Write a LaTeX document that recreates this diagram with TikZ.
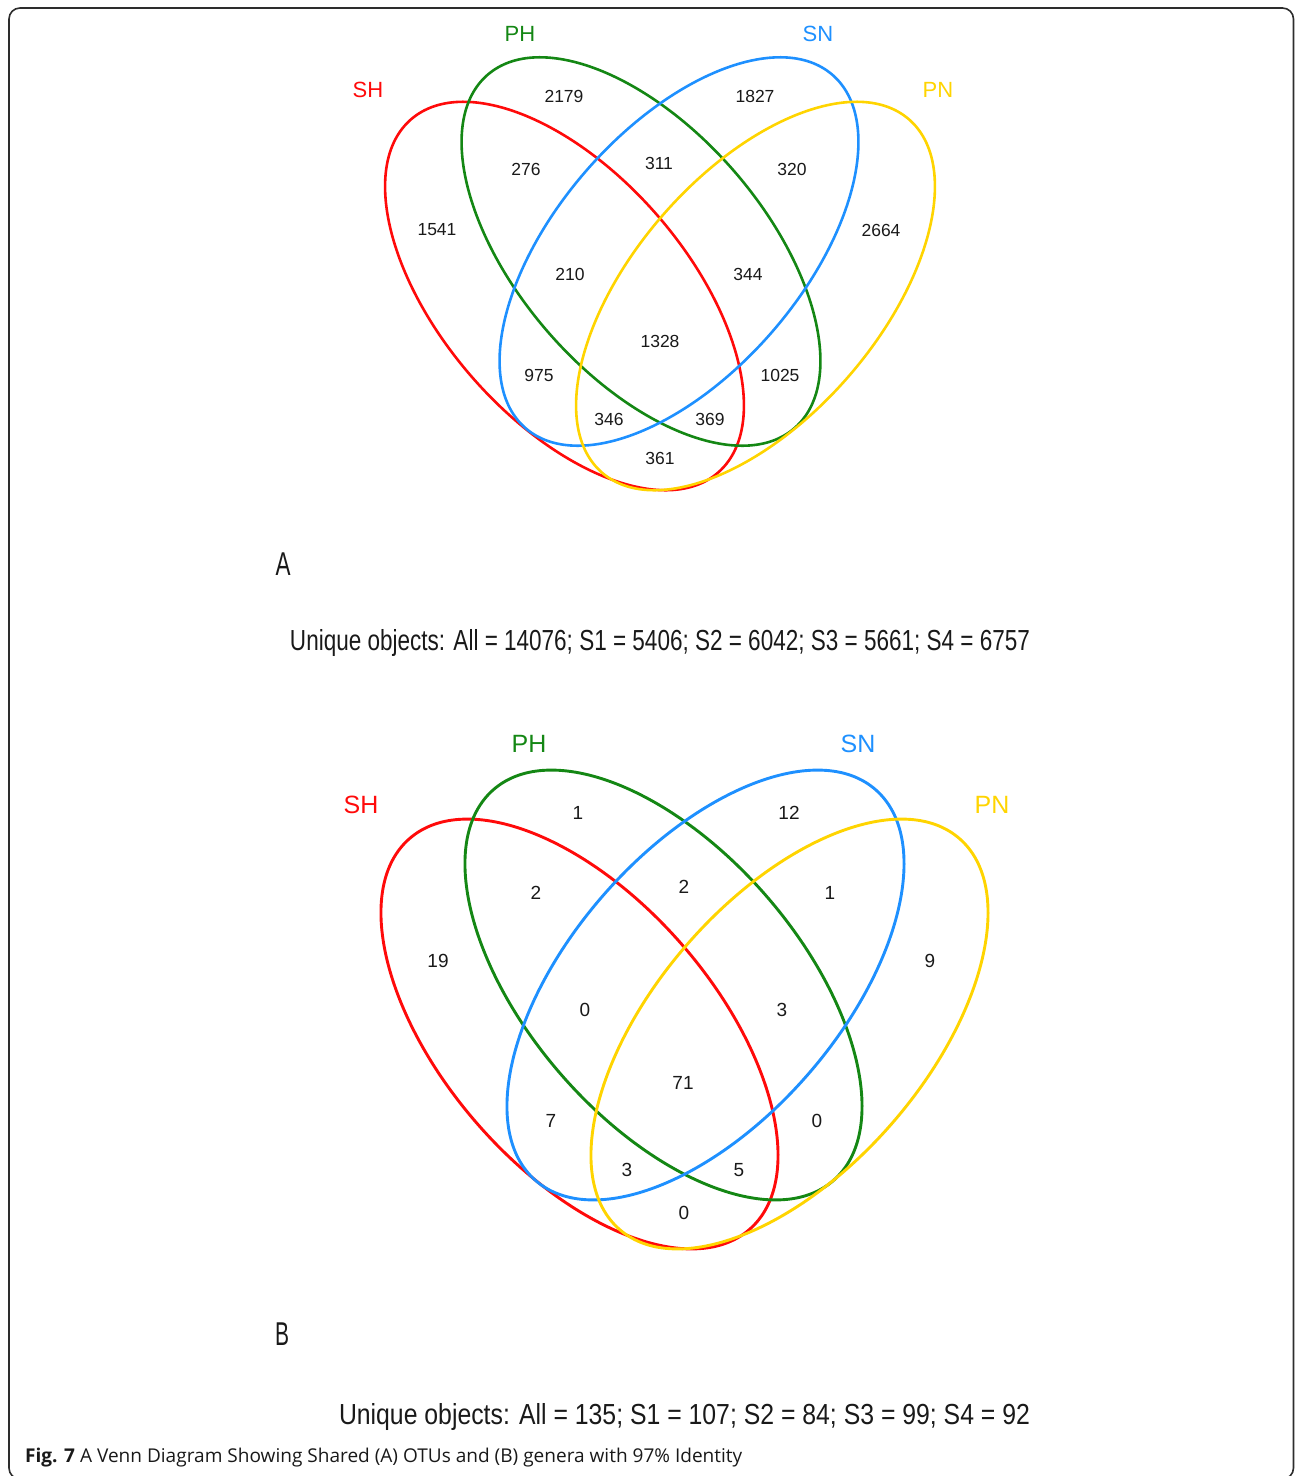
\documentclass[tikz,border=0pt]{standalone}
\usepackage{fontspec}
\usepackage{graphicx}
\setmainfont{Liberation Sans}
\newfontfamily\capfont{Open Sans}
\definecolor{vred}{RGB}{255,10,10}
\definecolor{vgreen}{RGB}{20,135,20}
\definecolor{vblue}{RGB}{30,144,255}
\definecolor{vyellow}{RGB}{255,212,0}
\definecolor{framegray}{RGB}{45,45,45}
\definecolor{txt}{RGB}{25,25,25}
\tikzset{
  frame/.style={draw=framegray, line width=1.6pt, rounded corners=11pt},
  ellA/.style={line width=2.6pt},
  ellB/.style={line width=2.9pt},
  numA/.style={inner sep=0pt, text=txt, font=\fontsize{17.5}{19}\selectfont},
  numB/.style={inner sep=0pt, text=txt, font=\fontsize{19}{21}\selectfont},
  setA/.style={inner sep=0pt, font=\fontsize{22}{24}\selectfont},
  setB/.style={inner sep=0pt, font=\fontsize{25}{27}\selectfont},
  panel/.style={inner sep=0pt, text=txt, font=\fontsize{33}{34}\selectfont},
  uniq/.style={inner sep=0pt, text=txt, font=\fontsize{29}{30}\selectfont},
  capt/.style={inner sep=0pt, anchor=west, text=txt, font=\capfont\fontsize{19}{21}\selectfont}
}
\begin{document}
\begin{tikzpicture}[x=1pt,y=-1pt]
\useasboundingbox (0,0) rectangle (1295,1476);
\clip (0,0) rectangle (1295,1476);
\draw[frame] (9,8) rectangle (1293.5,1479);

% ---------- Panel A ----------
\draw[vred, ellA] [rotate around={-49:(564.5,296)}] (564.5,296) ellipse [x radius=234, y radius=123];
\draw[vgreen, ellA] [rotate around={-49:(641,251.5)}] (641,251.5) ellipse [x radius=234, y radius=123];
\draw[vblue, ellA] [rotate around={49:(679,251.5)}] (679,251.5) ellipse [x radius=234, y radius=123];
\draw[vyellow, ellA] [rotate around={49:(755.5,296)}] (755.5,296) ellipse [x radius=234, y radius=123];

\node[setA, text=vred] (aSH) at (368,90) {SH};
\node[setA, text=vgreen] (aPH) at (520,34) {PH};
\node[setA, text=vblue] (aSN) at (818,34) {SN};
\node[setA, text=vyellow] (aPN) at (938,90) {PN};

\node[numA] (a1) at (564,96) {2179};
\node[numA] (a2) at (755,96) {1827};
\node[numA] (a3) at (526,169) {276};
\node[numA] (a4) at (659,163) {311};
\node[numA] (a5) at (792,169) {320};
\node[numA] (a6) at (437,230) {1541};
\node[numA] (a7) at (881,230) {2664};
\node[numA] (a8) at (570,274) {210};
\node[numA] (a9) at (748,274) {344};
\node[numA] (a10) at (660,341) {1328};
\node[numA] (a11) at (539,375) {975};
\node[numA] (a12) at (780,375) {1025};
\node[numA] (a13) at (609,419) {346};
\node[numA] (a14) at (710,419) {369};
\node[numA] (a15) at (660,458) {361};

\node[panel] (pA) at (283,564) {\resizebox{15pt}{\height}{A}};
\node[uniq] (uA) at (660,643) {\resizebox{740pt}{\height}{Unique objects: All = 14076; S1 = 5406; S2 = 6042; S3 = 5661; S4 = 6757}};

% ---------- Panel B ----------
\draw[vred, ellB] [rotate around={-49:(579.5,1034)}] (579.5,1034) ellipse [x radius=259, y radius=136];
\draw[vgreen, ellB] [rotate around={-49:(663.5,985)}] (663.5,985) ellipse [x radius=259, y radius=136];
\draw[vblue, ellB] [rotate around={49:(705.5,985)}] (705.5,985) ellipse [x radius=259, y radius=136];
\draw[vyellow, ellB] [rotate around={49:(789.5,1034)}] (789.5,1034) ellipse [x radius=259, y radius=136];

\node[setB, text=vred] (bSH) at (361,805) {SH};
\node[setB, text=vgreen] (bPH) at (529,744) {PH};
\node[setB, text=vblue] (bSN) at (858,744) {SN};
\node[setB, text=vyellow] (bPN) at (992,805) {PN};

\node[numB] (b1) at (578,813) {1};
\node[numB] (b2) at (789,813) {12};
\node[numB] (b3) at (536,893) {2};
\node[numB] (b4) at (684,887) {2};
\node[numB] (b5) at (830,893) {1};
\node[numB] (b6) at (438,961) {19};
\node[numB] (b7) at (930,961) {9};
\node[numB] (b8) at (585,1010) {0};
\node[numB] (b9) at (782,1010) {3};
\node[numB] (b10) at (683,1083) {71};
\node[numB] (b11) at (551,1121) {7};
\node[numB] (b12) at (817,1121) {0};
\node[numB] (b13) at (627,1170) {3};
\node[numB] (b14) at (739,1170) {5};
\node[numB] (b15) at (684,1213) {0};

\node[panel] (pB) at (282,1334) {\resizebox{14pt}{\height}{B}};
\node[uniq] (uB) at (684.5,1417) {\resizebox{691pt}{\height}{Unique objects: All = 135; S1 = 107; S2 = 84; S3 = 99; S4 = 92}};

% ---------- Caption ----------
\node[capt] (cap) at (25,1458) {\resizebox{717pt}{\height}{\textbf{Fig. 7} A Venn Diagram Showing Shared (A) OTUs and (B) genera with 97\% Identity}};
\end{tikzpicture}
\end{document}
